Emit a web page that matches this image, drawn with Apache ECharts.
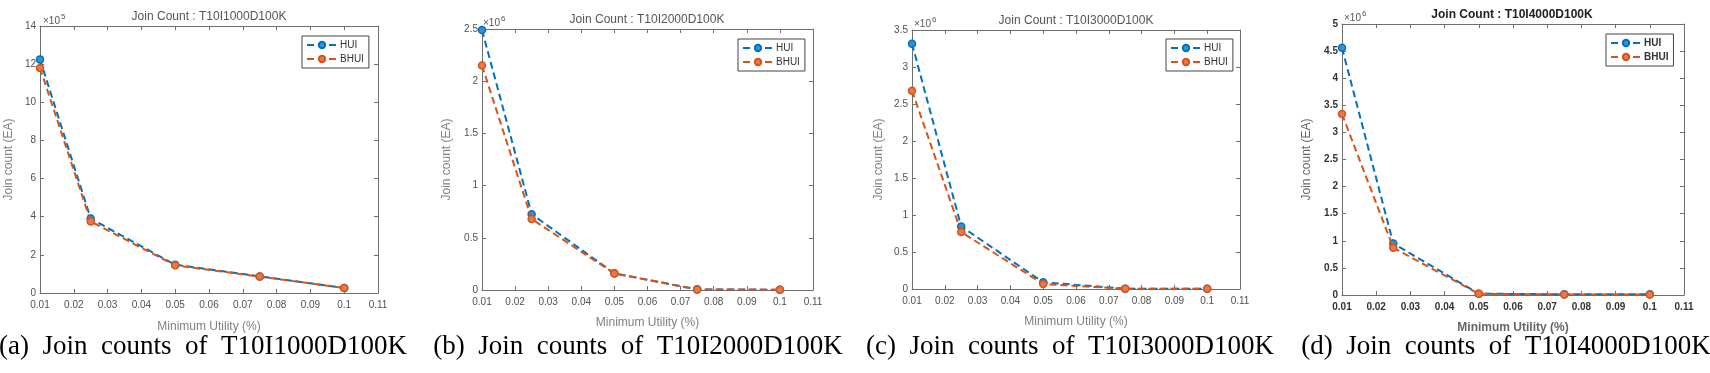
<!DOCTYPE html>
<html><head><meta charset="utf-8">
<script src="https://cdn.jsdelivr.net/npm/echarts@6/dist/echarts.min.js"></script>
<style>html,body{margin:0;padding:0;background:#fff}#c{width:1710px;height:373px}</style>
</head><body><div id="c"></div>
<script>
// ---- data ----
const minUtility = [0.01, 0.025, 0.05, 0.075, 0.1];
const datasetNames = ['T10I1000D100K', 'T10I2000D100K', 'T10I3000D100K', 'T10I4000D100K'];
const panelLetters = ['a', 'b', 'c', 'd'];
const huiA  = [1225000, 390000, 148000, 87000, 26000];
const bhuiA = [1180000, 375000, 145000, 86000, 26000];
const huiB  = [2490000, 726000, 160000, 6000, 3000];
const bhuiB = [2150000, 680000, 158000, 5000, 2000];
const huiC  = [3315000, 846000, 90000, 5000, 2000];
const bhuiC = [2680000, 770000, 67000, 4000, 2000];
const huiD  = [4560000, 950000, 25000, 12000, 12000];
const bhuiD = [3340000, 870000, 22000, 11000, 10000];
const yMaxes = [1400000, 2500000, 3500000, 5000000];
const ySteps = [200000, 500000, 500000, 500000];
const yExponents = [5, 6, 6, 6];
const xMin = 0.01, xMax = 0.11, xStep = 0.01;
const seriesNames = ['HUI', 'BHUI'];
const huiAll = [huiA, huiB, huiC, huiD];
const bhuiAll = [bhuiA, bhuiB, bhuiC, bhuiD];

// ---- layout / style ----
const layouts = [
  {left: 40,   top: 26, width: 338, height: 267, yNameGap: 25, xNameGap: 28, legL: 302,  legT: 36, titleX: 209,  titleY: 17, expX: 43,   expY: 21, capX: 203,  bold: false},
  {left: 482,  top: 29, width: 331, height: 261, yNameGap: 29, xNameGap: 27, legL: 738,  legT: 39, titleX: 647,  titleY: 20, expX: 483,  expY: 23, capX: 638,  bold: false},
  {left: 912,  top: 30, width: 328, height: 259, yNameGap: 27, xNameGap: 27, legL: 1166, legT: 39, titleX: 1076, titleY: 21, expX: 914,  expY: 24, capX: 1070, bold: false},
  {left: 1342, top: 24, width: 342, height: 271, yNameGap: 29, xNameGap: 27, legL: 1606, legT: 34, titleX: 1512, titleY: 15, expX: 1344, expY: 18, capX: 1506, bold: true}
];
const colors = ['#0072BD', '#D95319'];
const fills = ['#3a8fd0', '#e57a4a'];
const axisColor = '#6e6e6e';
const sans = 'Liberation Sans, Arial, sans-serif';
const serif = 'Liberation Serif, Times New Roman, serif';

const grid = [], xAxis = [], yAxis = [], series = [], legend = [], graphic = [];
const fmtX = v => String(parseFloat(v.toFixed(2)));

layouts.forEach((L, i) => {
  const labelColor = L.bold ? '#333' : '#505050';
  const nameColor = L.bold ? '#666' : '#808080';
  grid.push({left: L.left, top: L.top, width: L.width, height: L.height, containLabel: false});
  const baseX = {
    type: 'value', gridIndex: i, min: xMin, max: xMax, interval: xStep,
    axisLine: {show: true, onZero: false, lineStyle: {color: axisColor, width: 1}},
    axisTick: {show: true, inside: true, length: 4, lineStyle: {color: axisColor}},
    splitLine: {show: false}
  };
  xAxis.push(Object.assign({}, baseX, {
    position: 'bottom',
    axisLabel: {formatter: fmtX, fontSize: 10, color: labelColor, margin: 7, fontFamily: sans, fontWeight: L.bold ? 'bold' : 'normal'},
    name: 'Minimum Utility (%)', nameLocation: 'middle', nameGap: L.xNameGap,
    nameTextStyle: {fontSize: 12, color: nameColor, fontFamily: sans, fontWeight: L.bold ? 'bold' : 'normal'}
  }));
  xAxis.push(Object.assign({}, baseX, {position: 'top', axisLabel: {show: false}}));
  const p = Math.pow(10, yExponents[i]);
  const baseY = {
    type: 'value', gridIndex: i, min: 0, max: yMaxes[i], interval: ySteps[i],
    axisLine: {show: true, onZero: false, lineStyle: {color: axisColor, width: 1}},
    axisTick: {show: true, inside: true, length: 4, lineStyle: {color: axisColor}},
    splitLine: {show: false}
  };
  yAxis.push(Object.assign({}, baseY, {
    position: 'left',
    axisLabel: {formatter: v => String(parseFloat((v / p).toFixed(2))), fontSize: 10, color: labelColor, margin: 4, fontFamily: sans, fontWeight: L.bold ? 'bold' : 'normal'},
    name: 'Join count (EA)', nameLocation: 'middle', nameGap: L.yNameGap, nameRotate: 90,
    nameTextStyle: {fontSize: 12, color: nameColor, fontFamily: sans}
  }));
  yAxis.push(Object.assign({}, baseY, {position: 'right', axisLabel: {show: false}}));

  [huiAll[i], bhuiAll[i]].forEach((vals, k) => {
    series.push({
      name: seriesNames[k], type: 'line', xAxisIndex: 2 * i, yAxisIndex: 2 * i,
      data: minUtility.map((x, j) => [x, vals[j]]),
      symbol: 'circle', symbolSize: 7, showSymbol: true,
      lineStyle: {color: colors[k], width: 2, type: [7, 4]},
      itemStyle: {color: fills[k], borderColor: colors[k], borderWidth: 1.5},
      emphasis: {disabled: true}, animation: false, z: 2 + k
    });
  });

  legend.push({
    data: seriesNames, orient: 'vertical', left: L.legL, top: L.legT,
    itemWidth: 30, itemHeight: 8, itemGap: 4, padding: [4, 5, 4, 4],
    borderColor: '#444', borderWidth: 1, backgroundColor: '#fff',
    selectedMode: false,
    textStyle: {fontSize: 10, color: '#333', fontFamily: sans, padding: [0, 0, 0, -2], fontWeight: L.bold ? 'bold' : 'normal'}
  });

  graphic.push({type: 'text', x: L.titleX, y: L.titleY, silent: true,
    style: {text: 'Join Count : ' + datasetNames[i], align: 'center', verticalAlign: 'middle',
      font: (L.bold ? 'bold ' : '') + '12px ' + sans, fill: L.bold ? '#222' : '#555'}});
  graphic.push({type: 'text', x: L.expX, y: L.expY, silent: true,
    style: {text: '×10', align: 'left', verticalAlign: 'middle', font: '10px ' + sans, fill: '#555'}});
  graphic.push({type: 'text', x: L.expX + 18, y: L.expY - 4, silent: true,
    style: {text: String(yExponents[i]), align: 'left', verticalAlign: 'middle', font: '8px ' + sans, fill: '#555'}});
  graphic.push({type: 'text', x: L.capX, y: 347, silent: true,
    style: {text: '(' + panelLetters[i] + ')  Join  counts  of  ' + datasetNames[i], align: 'center', verticalAlign: 'middle',
      font: '27px ' + serif, fill: '#000'}});
});

const chart = echarts.init(document.getElementById('c'), null, {renderer: 'canvas'});
chart.setOption({animation: false, grid, xAxis, yAxis, series, legend, graphic});
</script></body></html>
